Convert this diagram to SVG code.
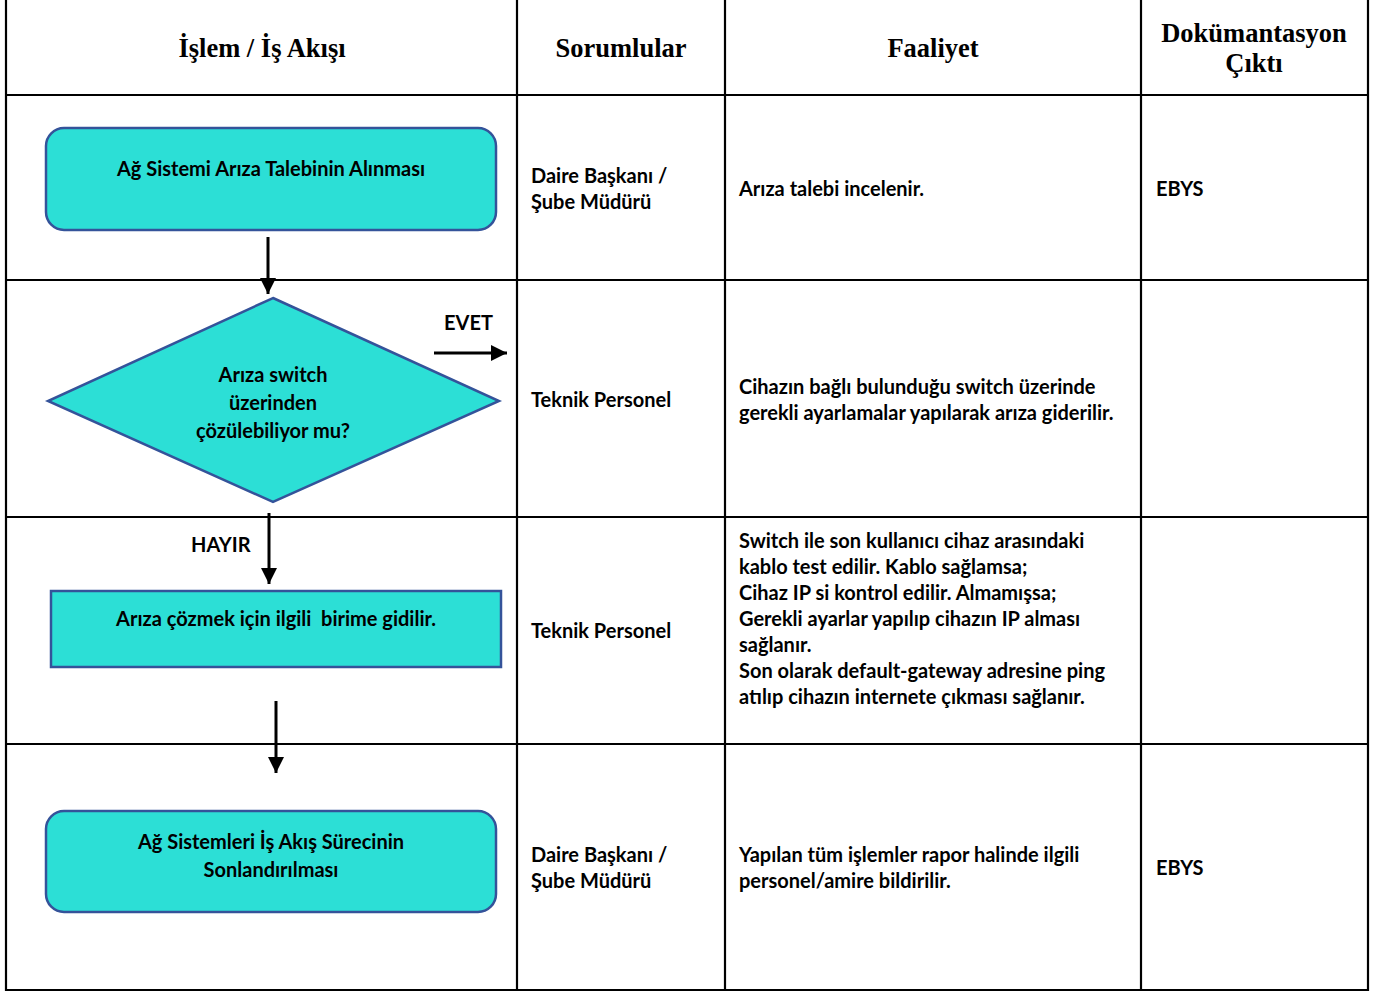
<svg xmlns="http://www.w3.org/2000/svg" width="1381" height="992" viewBox="0 0 1381 992">
<style>
.grid{stroke:#000;stroke-width:2.2;fill:none}
.hd{font-family:"Liberation Serif","Times New Roman",serif;font-weight:bold;font-size:26.5px;fill:#000;text-anchor:middle}
.t{font-family:Lato,"Open Sans",sans-serif;font-weight:bold;font-size:20px;fill:#000}
.c{text-anchor:middle}
.node{fill:#2CDFD6;stroke:#34539A;stroke-width:2.5}
.conn{stroke:#000;stroke-width:3;fill:none}
</style>
<defs>
<marker id="ah" markerWidth="16" markerHeight="16" refX="16" refY="8" orient="auto" markerUnits="userSpaceOnUse" viewBox="0 0 16 16">
<path d="M0,0 L16,8 L0,16 z" fill="#000"/>
</marker>
</defs>
<rect width="1381" height="992" fill="#fff"/>
<g id="table">
<line class="grid" x1="6" y1="0" x2="6" y2="991"/>
<line class="grid" x1="517" y1="0" x2="517" y2="991"/>
<line class="grid" x1="725" y1="0" x2="725" y2="991"/>
<line class="grid" x1="1141" y1="0" x2="1141" y2="991"/>
<line class="grid" x1="1368" y1="0" x2="1368" y2="991"/>
<line class="grid" x1="5" y1="95" x2="1369" y2="95"/>
<line class="grid" x1="5" y1="280" x2="1369" y2="280"/>
<line class="grid" x1="5" y1="517" x2="1369" y2="517"/>
<line class="grid" x1="5" y1="744" x2="1369" y2="744"/>
<line class="grid" x1="5" y1="990" x2="1369" y2="990"/>
</g>
<g id="headers">
<text class="hd" x="262" y="57">İşlem / İş Akışı</text>
<text class="hd" x="621" y="57">Sorumlular</text>
<text class="hd" x="933" y="57">Faaliyet</text>
<text class="hd" x="1254" y="42">Dokümantasyon</text>
<text class="hd" x="1254" y="72">Çıktı</text>
</g>
<g id="connectors">
<line class="conn" x1="268" y1="237" x2="268" y2="294" marker-end="url(#ah)"/>
<line class="conn" x1="434" y1="353" x2="507" y2="353" marker-end="url(#ah)"/>
<line class="conn" x1="269" y1="513" x2="269" y2="584" marker-end="url(#ah)"/>
<line class="conn" x1="276" y1="701" x2="276" y2="773" marker-end="url(#ah)"/>
<text class="t" x="444" y="330">EVET</text>
<text class="t" x="191" y="552">HAYIR</text>
</g>
<g id="n1">
<rect class="node" x="46" y="128" width="450" height="102" rx="18"/>
<text class="t c" x="271" y="176">Ağ Sistemi Arıza Talebinin Alınması</text>
</g>
<g id="n2">
<polygon class="node" stroke-width="2" points="273,298 499,401 273,502 48,401"/>
<text class="t c" x="273" y="382">Arıza switch</text>
<text class="t c" x="273" y="410">üzerinden</text>
<text class="t c" x="273" y="438">çözülebiliyor mu?</text>
</g>
<g id="n3">
<rect class="node" x="51" y="591" width="450" height="76"/>
<text class="t c" x="276" y="626" style="white-space:pre">Arıza çözmek için ilgili  birime gidilir.</text>
</g>
<g id="n4">
<rect class="node" x="46" y="811" width="450" height="101" rx="18"/>
<text class="t c" x="271" y="849">Ağ Sistemleri İş Akış Sürecinin</text>
<text class="t c" x="271" y="877">Sonlandırılması</text>
</g>
<g id="col2">
<text class="t" x="531" y="183">Daire Başkanı /</text>
<text class="t" x="531" y="209">Şube Müdürü</text>
<text class="t" x="531" y="407">Teknik Personel</text>
<text class="t" x="531" y="638">Teknik Personel</text>
<text class="t" x="531" y="862">Daire Başkanı /</text>
<text class="t" x="531" y="888">Şube Müdürü</text>
</g>
<g id="col3">
<text class="t" x="739" y="196">Arıza talebi incelenir.</text>
<text class="t" x="739" y="394">Cihazın bağlı bulunduğu switch üzerinde</text>
<text class="t" x="739" y="420">gerekli ayarlamalar yapılarak arıza giderilir.</text>
<text class="t" x="739" y="548">Switch ile son kullanıcı cihaz arasındaki</text>
<text class="t" x="739" y="574">kablo test edilir. Kablo sağlamsa;</text>
<text class="t" x="739" y="600">Cihaz IP si kontrol edilir. Almamışsa;</text>
<text class="t" x="739" y="626">Gerekli ayarlar yapılıp cihazın IP alması</text>
<text class="t" x="739" y="652">sağlanır.</text>
<text class="t" x="739" y="678">Son olarak default-gateway adresine ping</text>
<text class="t" x="739" y="704">atılıp cihazın internete çıkması sağlanır.</text>
<text class="t" x="739" y="862">Yapılan tüm işlemler rapor halinde ilgili</text>
<text class="t" x="739" y="888">personel/amire bildirilir.</text>
</g>
<g id="col4">
<text class="t" x="1156" y="196">EBYS</text>
<text class="t" x="1156" y="875">EBYS</text>
</g>
</svg>
